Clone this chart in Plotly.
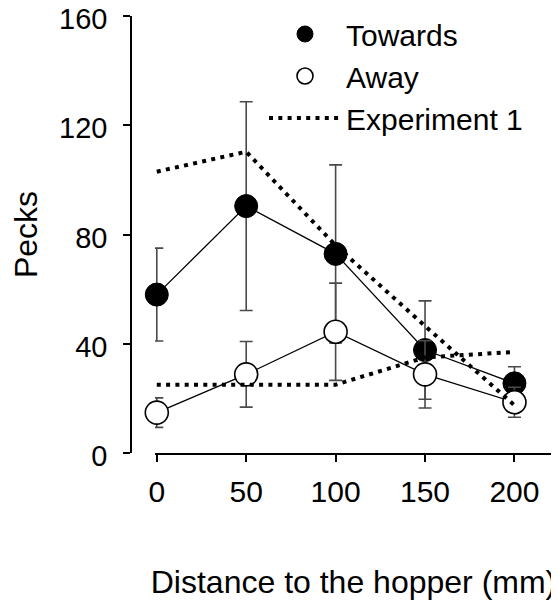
import plotly.graph_objects as go

distance = [0, 50, 100, 150, 200]
towards_mean = [58, 90.4, 72.9, 37.7, 25.5]
towards_err = [17, 38.2, 32.6, 18, 6.1]
away_mean = [14.8, 28.8, 44.4, 28.8, 18.6]
away_err = [5.4, 12, 17.8, 12.3, 5.5]
exp1_towards = [103, 110.3, 76, 46.5, 17.5]
exp1_away = [25, 25, 25, 35, 37]

x_ticks = [0, 50, 100, 150, 200]
y_ticks = [0, 40, 80, 120, 160]

FONT = "Liberation Sans, Arial, sans-serif"
ERR_COLOR = "#4a4a4a"
DOTS = "4px,5.3px"

# the page body has an 8px default margin; the figure is sized to fill the rest
PAGE_OFF = 8
W, H = 559 - PAGE_OFF, 600 - PAGE_OFF
ML, MR, MT, MB = 131 - PAGE_OFF, 7, 16 - PAGE_OFF, 147
PLOT_W = W - ML - MR
PLOT_H = H - MT - MB

fig = go.Figure()

# connecting lines (no legend entry)
fig.add_trace(go.Scatter(
    x=distance, y=towards_mean, mode="lines", showlegend=False,
    line=dict(color="black", width=1.3), hoverinfo="skip",
))
fig.add_trace(go.Scatter(
    x=distance, y=away_mean, mode="lines", showlegend=False,
    line=dict(color="black", width=1.3), hoverinfo="skip",
))
# markers with error bars
fig.add_trace(go.Scatter(
    x=distance, y=towards_mean, name="Towards", mode="markers",
    marker=dict(size=23, color="black", line=dict(color="black", width=1)),
    error_y=dict(type="data", array=towards_err, visible=True,
                 color=ERR_COLOR, thickness=1.6, width=6.5),
    cliponaxis=False,
))
fig.add_trace(go.Scatter(
    x=distance, y=away_mean, name="Away", mode="markers",
    marker=dict(size=23, color="white", line=dict(color="black", width=1.6)),
    error_y=dict(type="data", array=away_err, visible=True,
                 color=ERR_COLOR, thickness=1.6, width=6.5),
    cliponaxis=False,
))
# Experiment 1 reference lines
fig.add_trace(go.Scatter(
    x=distance, y=exp1_towards, name="Experiment 1", mode="lines",
    legendgroup="exp1",
    line=dict(color="black", width=4, dash=DOTS),
    cliponaxis=False,
))
fig.add_trace(go.Scatter(
    x=distance, y=exp1_away, name="Experiment 1", mode="lines",
    legendgroup="exp1", showlegend=False,
    line=dict(color="black", width=4, dash=DOTS),
    cliponaxis=False,
))

fig.update_layout(
    width=W, height=H,
    margin=dict(l=ML, r=MR, t=MT, b=MB, autoexpand=False),
    paper_bgcolor="white", plot_bgcolor="white",
    font=dict(family=FONT, size=30, color="black"),
    showlegend=True,
    legend=dict(
        x=(264 - 131) / PLOT_W, y=1 + 8 / PLOT_H,
        xanchor="left", yanchor="top",
        bgcolor="rgba(0,0,0,0)", itemwidth=72,
        font=dict(family=FONT, size=30, color="black"),
        tracegroupgap=0,
    ),
    xaxis=dict(
        domain=[(155 - 131) / PLOT_W, 1], range=[-1, 221],
        tickvals=x_ticks, ticktext=[str(v) for v in x_ticks],
        ticks="outside", ticklen=7, tickwidth=1.5, tickcolor="black",
        showline=True, linecolor="black", linewidth=1.5,
        showgrid=False, zeroline=False,
        tickfont=dict(family=FONT, size=30),
        ticklabelstandoff=4, ticklabeloverflow="allow",
        title=dict(text="Distance to the hopper (mm)", standoff=69,
                   font=dict(family=FONT, size=32)),
    ),
    yaxis=dict(
        anchor="free", position=0, range=[0, 160],
        tickvals=y_ticks, ticktext=[str(v) for v in y_ticks],
        ticks="outside", ticklen=7, tickwidth=1.5, tickcolor="black",
        showline=True, linecolor="black", linewidth=1.5,
        showgrid=False, zeroline=False,
        tickfont=dict(family=FONT, size=29),
        ticklabelstandoff=10, ticklabeloverflow="allow",
        ticklabelshift=3,
        title=dict(text="Pecks", standoff=32,
                   font=dict(family=FONT, size=32)),
    ),
)

fig.write_html("out.html")
